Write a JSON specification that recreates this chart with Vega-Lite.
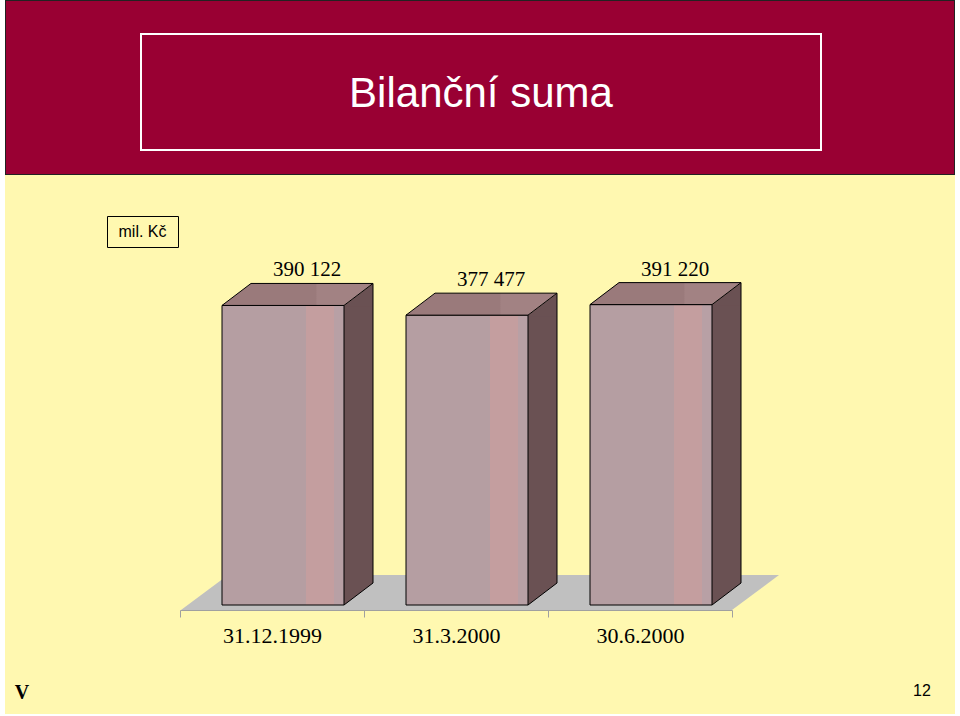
{
  "$schema": "https://vega.github.io/schema/vega-lite/v6.json",
  "background": "#FFF8B0",
  "padding": 0,
  "spacing": 0,
  "config": {
    "view": {"stroke": null},
    "concat": {"spacing": 0},
    "locale": {"number": {"decimal": ",", "thousands": " ", "grouping": [3], "currency": ["", " Kč"]}}
  },
  "hconcat": [
    {"width": 5, "height": 716, "data": {"values": []}, "mark": "rect", "view": {"fill": "#FFFFFF", "stroke": null}},
    {
      "spacing": 0,
      "vconcat": [
        {
          "spacing": 0,
          "vconcat": [
            {"width": 950, "height": 1, "data": {"values": []}, "mark": "rect", "view": {"fill": "#222222", "stroke": null}},
            {
              "spacing": 0,
              "hconcat": [
                {"width": 1, "height": 173, "data": {"values": []}, "mark": "rect", "view": {"fill": "#222222", "stroke": null}},
                {
                  "spacing": 0,
                  "vconcat": [
                    {"width": 948, "height": 32, "data": {"values": []}, "mark": "rect", "view": {"fill": "#990033", "stroke": null}},
                    {
                      "spacing": 0,
                      "hconcat": [
                        {"width": 134, "height": 118, "data": {"values": []}, "mark": "rect", "view": {"fill": "#990033", "stroke": null}},
                        {
                          "spacing": 0,
                          "vconcat": [
                            {"width": 682, "height": 2, "data": {"values": []}, "mark": "rect", "view": {"fill": "#FFFFFF", "stroke": null}},
                            {
                              "spacing": 0,
                              "hconcat": [
                                {"width": 2, "height": 114, "data": {"values": []}, "mark": "rect", "view": {"fill": "#FFFFFF", "stroke": null}},
                                {
                                  "width": 678, "height": 114,
                                  "view": {"fill": "#990033", "stroke": null},
                                  "data": {"values": [{"t": "Bilanční suma"}]},
                                  "mark": {"type": "text", "font": "Liberation Sans", "fontSize": 42, "color": "#FFFFFF", "align": "center", "baseline": "middle", "dy": 2},
                                  "encoding": {"text": {"field": "t", "type": "nominal"}}
                                },
                                {"width": 2, "height": 114, "data": {"values": []}, "mark": "rect", "view": {"fill": "#FFFFFF", "stroke": null}}
                              ]
                            },
                            {"width": 682, "height": 2, "data": {"values": []}, "mark": "rect", "view": {"fill": "#FFFFFF", "stroke": null}}
                          ]
                        },
                        {"width": 132, "height": 118, "data": {"values": []}, "mark": "rect", "view": {"fill": "#990033", "stroke": null}}
                      ]
                    },
                    {"width": 948, "height": 23, "data": {"values": []}, "mark": "rect", "view": {"fill": "#990033", "stroke": null}}
                  ]
                },
                {"width": 1, "height": 173, "data": {"values": []}, "mark": "rect", "view": {"fill": "#222222", "stroke": null}}
              ]
            },
            {"width": 950, "height": 1, "data": {"values": []}, "mark": "rect", "view": {"fill": "#222222", "stroke": null}}
          ]
        },
        {
          "spacing": 0,
          "vconcat": [
            {
              "spacing": 0,
              "hconcat": [
                {
                  "spacing": 0,
                  "vconcat": [
                    {"width": 172, "height": 40, "data": {"values": []}, "mark": "rect"},
                    {
                      "spacing": 0,
                      "hconcat": [
                        {"width": 101, "height": 31, "data": {"values": []}, "mark": "rect"},
                        {
                          "width": 71, "height": 31,
                          "view": {"stroke": "#000000", "strokeWidth": 1},
                          "data": {"values": [{"t": "mil. Kč"}]},
                          "mark": {"type": "text", "font": "Liberation Sans", "fontSize": 16, "color": "#000000", "align": "center", "baseline": "middle"},
                          "encoding": {"text": {"field": "t", "type": "nominal"}}
                        }
                      ]
                    },
                    {"width": 172, "height": 419, "data": {"values": []}, "mark": "rect"}
                  ]
                },
                {
                  "width": 552,
                  "height": 430,
                  "data": {"values": [
                    {"date": "31.12.1999", "value": 390122},
                    {"date": "31.3.2000", "value": 377477},
                    {"date": "30.6.2000", "value": 391220}
                  ]},
                  "layer": [
                    {
                      "transform": [{"aggregate": [{"op": "count", "as": "n"}]}],
                      "mark": {"type": "point", "shape": "M -275 5 L 276 5 L 323 -30 L -228 -30 Z", "size": 4, "filled": true, "fill": "#C0C0C0", "stroke": null, "opacity": 1},
                      "encoding": {
                        "y": {"datum": 0, "type": "quantitative", "scale": {"domain": [0, 560000], "nice": false, "zero": true}, "axis": null}
                      }
                    },
                    {
                      "mark": {"type": "bar", "width": 29, "xOffset": 86.5, "y2Offset": -22, "fill": "#6A5153", "stroke": null},
                      "encoding": {
                        "x": {"field": "date", "type": "nominal", "sort": null},
                        "y": {"field": "value", "type": "quantitative", "axis": null},
                        "y2": {"datum": 0}
                      }
                    },
                    {
                      "mark": {"type": "point", "shape": "M 72 0 L 101 -22 L 101 1 L 72 1 Z", "size": 4, "filled": true, "fill": "#6A5153", "stroke": null, "opacity": 1},
                      "encoding": {
                        "x": {"field": "date", "type": "nominal", "sort": null},
                        "y": {"field": "value", "type": "quantitative", "axis": null}
                      }
                    },
                    {
                      "mark": {"type": "point", "shape": "M 72 -23 L 101 -23 L 101 -22 L 72 0 Z", "size": 4, "filled": true, "fill": "#6A5153", "stroke": null, "opacity": 1},
                      "encoding": {
                        "x": {"field": "date", "type": "nominal", "sort": null},
                        "y": {"datum": 0, "type": "quantitative", "axis": null}
                      }
                    },
                    {
                      "mark": {
                        "type": "bar", "width": 122, "xOffset": 11, "stroke": "#000000", "strokeWidth": 1, "opacity": 1,
                        "fill": {"gradient": "linear", "x1": 0, "y1": 0, "x2": 1, "y2": 0, "stops": [
                          {"offset": 0, "color": "#B59EA2"},
                          {"offset": 0.688, "color": "#B59EA2"},
                          {"offset": 0.689, "color": "#C49E9F"},
                          {"offset": 0.917, "color": "#C49E9F"},
                          {"offset": 0.918, "color": "#B8A0A5"},
                          {"offset": 1, "color": "#B8A0A5"}
                        ]}
                      },
                      "encoding": {
                        "x": {
                          "field": "date", "type": "nominal", "sort": null,
                          "scale": {"type": "band", "paddingInner": 0, "paddingOuter": 0},
                          "axis": {
                            "title": null, "offset": 5, "tickBand": "extent", "tickSize": 7,
                            "tickColor": "#A0A0A0", "domainColor": "#A0A0A0", "tickWidth": 1, "domainWidth": 1,
                            "labelFont": "Liberation Serif", "labelFontSize": 22, "labelColor": "#000000",
                            "labelPadding": 25, "labelBaseline": "alphabetic", "labelAlign": "center", "labelAngle": 0,
                            "labelFlush": false, "grid": false, "zindex": 1
                          }
                        },
                        "y": {"field": "value", "type": "quantitative", "axis": null},
                        "y2": {"datum": 0}
                      }
                    },
                    {
                      "mark": {
                        "type": "point", "shape": "M -50 0 L 72 0 L 101 -22 L -21 -22 Z", "size": 4, "filled": true,
                        "stroke": "#000000", "strokeWidth": 1, "opacity": 1,
                        "fill": {"gradient": "linear", "x1": 0, "y1": 0, "x2": 1, "y2": 0, "stops": [
                          {"offset": 0, "color": "#9A7A7B"},
                          {"offset": 0.62, "color": "#9A7A7B"},
                          {"offset": 0.63, "color": "#A28283"},
                          {"offset": 1, "color": "#A28283"}
                        ]}
                      },
                      "encoding": {
                        "x": {"field": "date", "type": "nominal", "sort": null},
                        "y": {"field": "value", "type": "quantitative", "axis": null}
                      }
                    },
                    {
                      "mark": {"type": "rule", "xOffset": 101, "yOffset": -22, "y2Offset": -22, "color": "#000000", "strokeWidth": 1},
                      "encoding": {
                        "x": {"field": "date", "type": "nominal", "sort": null},
                        "y": {"field": "value", "type": "quantitative", "axis": null},
                        "y2": {"datum": 0}
                      }
                    },
                    {
                      "mark": {"type": "point", "shape": "M 72 0 L 101 -22", "size": 4, "filled": false, "stroke": "#000000", "strokeWidth": 1, "opacity": 1},
                      "encoding": {
                        "x": {"field": "date", "type": "nominal", "sort": null},
                        "y": {"datum": 0, "type": "quantitative", "axis": null}
                      }
                    },
                    {
                      "mark": {"type": "text", "font": "Liberation Serif", "fontSize": 21, "color": "#000000", "align": "center", "baseline": "alphabetic", "xOffset": 35, "yOffset": -29},
                      "encoding": {
                        "x": {"field": "date", "type": "nominal", "sort": null},
                        "y": {"field": "value", "type": "quantitative", "axis": null},
                        "text": {"field": "value", "type": "quantitative", "format": ",d"}
                      }
                    }
                  ]
                }
              ]
            },
            {
              "spacing": 861,
              "hconcat": [
                {
                  "width": 34, "height": 47,
                  "data": {"values": [{"t": "V"}]},
                  "mark": {"type": "text", "font": "Liberation Serif", "fontWeight": "bold", "fontSize": 20, "color": "#000000", "align": "center", "baseline": "middle", "dy": 2},
                  "encoding": {"text": {"field": "t", "type": "nominal"}}
                },
                {
                  "width": 44, "height": 47,
                  "data": {"values": [{"t": "12"}]},
                  "mark": {"type": "text", "font": "Liberation Sans", "fontSize": 16, "color": "#000000", "align": "center", "baseline": "middle"},
                  "encoding": {"text": {"field": "t", "type": "nominal"}}
                }
              ]
            }
          ]
        },
        {"width": 950, "height": 4, "data": {"values": []}, "mark": "rect", "view": {"fill": "#FFFFFF", "stroke": null}}
      ]
    },
    {"width": 5, "height": 716, "data": {"values": []}, "mark": "rect", "view": {"fill": "#FFFFFF", "stroke": null}}
  ]
}
